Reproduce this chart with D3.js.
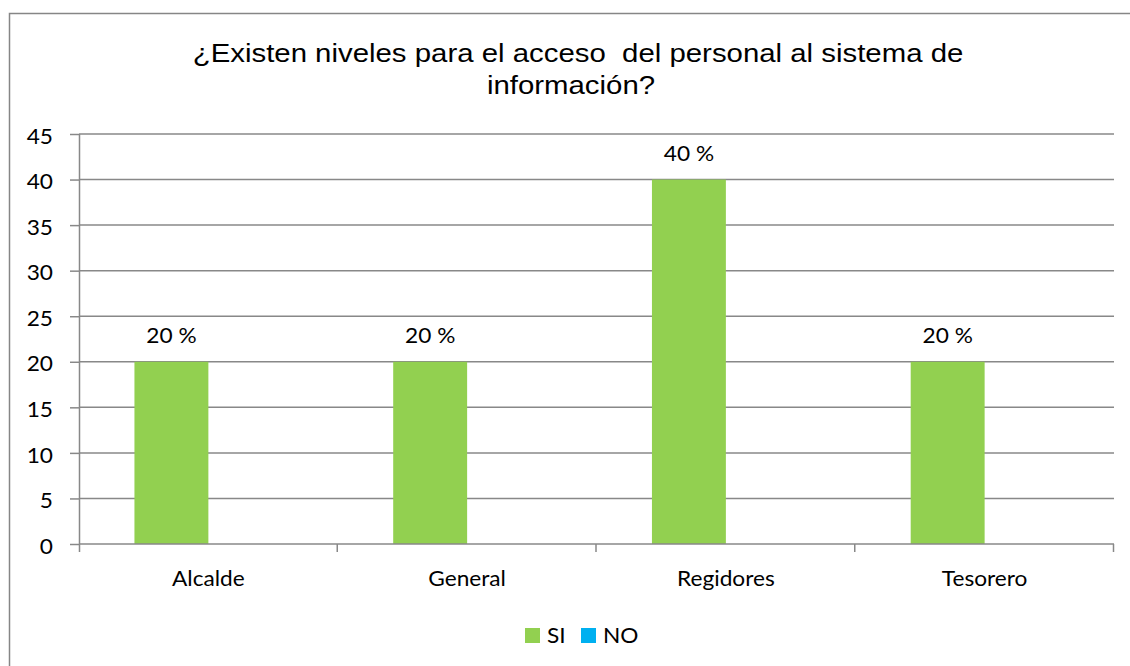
<!DOCTYPE html>
<html>
<head>
<meta charset="utf-8">
<script src="https://cdn.jsdelivr.net/npm/d3@7"></script>
<style>
  html, body { margin: 0; padding: 0; background: #fff; overflow: hidden; }
  svg { display: block; }
</style>
</head>
<body>
<svg id="chart" width="1130" height="666"></svg>
<script>
// Chart data
const categories = ["Alcalde", "General", "Regidores", "Tesorero"];
const seriesNames = ["SI", "NO"];
const siValues = [20, 20, 40, 20];
const noValues = [0, 0, 0, 0];
const yTickValues = [0, 5, 10, 15, 20, 25, 30, 35, 40, 45];
const titleLines = ["¿Existen niveles para el acceso  del personal al sistema de", "información?"];

const seriesColors = { SI: "#92D050", NO: "#00B0F0" };
const gridColor = "#888888";
const labelFont = "Lato, 'Open Sans', sans-serif";
const labelSize = 21;
const titleFont = "'Liberation Sans', Arial, sans-serif";
const titleStretch = 1.13; // horizontal widening of the title glyphs
const labelStretch = 1.08; // horizontal widening of the label glyphs

const svg = d3.select("#chart");

// Chart frame: only the top and left edges fall inside the view
svg.append("path")
  .attr("d", "M9.5,700V13.5H1200")
  .attr("fill", "none")
  .attr("stroke", "#868686").attr("stroke-width", 1.5);

// Title
const titleCenters = [578, 571];
const titleBaselines = [62, 94];
titleLines.forEach((line, i) => {
  svg.append("text")
    .attr("transform", `translate(${titleCenters[i]},${titleBaselines[i]}) scale(${titleStretch},1)`)
    .attr("text-anchor", "middle")
    .attr("font-family", titleFont)
    .attr("font-size", 26)
    .attr("fill", "#000")
    .style("white-space", "pre")
    .text(line);
});

// Scales
const plot = { left: 79, right: 1114, top: 134, bottom: 544 };
const y = d3.scaleLinear().domain([0, 45]).range([plot.bottom, plot.top]);
const x0 = d3.scaleBand().domain(categories).range([plot.left, plot.right]).padding(0);
const x1 = d3.scaleBand().domain(seriesNames).range([0, x0.bandwidth()])
  .paddingInner(0).paddingOuter(0.75);

// Horizontal gridlines
svg.append("g")
  .selectAll("line")
  .data(yTickValues.filter(v => v > 0))
  .join("line")
  .attr("x1", plot.left).attr("x2", plot.right)
  .attr("y1", d => y(d)).attr("y2", d => y(d))
  .attr("stroke", gridColor).attr("stroke-width", 1.5);

// Bars
const rows = categories.map((c, i) => ({ category: c, SI: siValues[i], NO: noValues[i] }));
const groups = svg.append("g")
  .selectAll("g")
  .data(rows)
  .join("g")
  .attr("transform", d => `translate(${x0(d.category)},0)`);

groups.selectAll("rect")
  .data(d => seriesNames.map(s => ({ series: s, value: d[s] })))
  .join("rect")
  .attr("x", d => x1(d.series))
  .attr("width", x1.bandwidth())
  .attr("y", d => y(d.value))
  .attr("height", d => y(0) - y(d.value))
  .attr("fill", d => seriesColors[d.series]);

// Value labels above the SI bars
groups.selectAll("text.value")
  .data(d => [{ series: "SI", value: d.SI }])
  .join("text")
  .attr("class", "value")
  .attr("transform", d => `translate(${x1(d.series) + x1.bandwidth() / 2},${y(d.value) - 18.5}) scale(${labelStretch},1)`)
  .attr("text-anchor", "middle")
  .attr("font-family", labelFont)
  .attr("font-size", labelSize)
  .attr("fill", "#000")
  .text(d => `${d.value} %`);

// Y axis
const yAxis = svg.append("g")
  .attr("transform", `translate(${plot.left},0)`)
  .call(d3.axisLeft(y).tickValues(yTickValues).tickSize(9).tickPadding(17).tickSizeOuter(0));
yAxis.select(".domain").attr("stroke", gridColor).attr("stroke-width", 1.5)
  .attr("d", `M0.5,${y(45)}V${plot.bottom + 8}`);
yAxis.selectAll(".tick line").attr("stroke", gridColor).attr("stroke-width", 1.5);
yAxis.selectAll(".tick text")
  .attr("font-family", labelFont)
  .attr("font-size", labelSize)
  .attr("fill", "#000")
  .attr("x", null)
  .attr("dy", null)
  .attr("dominant-baseline", "central")
  .attr("transform", `translate(-26,1) scale(${labelStretch},1)`);

// X axis: baseline with boundary ticks between categories
const xAxisG = svg.append("g");
xAxisG.append("line")
  .attr("x1", plot.left).attr("x2", plot.right)
  .attr("y1", y(0)).attr("y2", y(0))
  .attr("stroke", gridColor).attr("stroke-width", 1.5);
const boundaries = categories.map(c => x0(c)).concat([x0(categories[categories.length - 1]) + x0.bandwidth()]);
xAxisG.selectAll("line.boundary")
  .data(boundaries.slice(1))
  .join("line")
  .attr("class", "boundary")
  .attr("x1", d => d - 0.5).attr("x2", d => d - 0.5)
  .attr("y1", y(0)).attr("y2", y(0) + 8)
  .attr("stroke", gridColor).attr("stroke-width", 1.5);
xAxisG.selectAll("text")
  .data(categories)
  .join("text")
  .attr("transform", d => `translate(${x0(d) + x0.bandwidth() / 2},586) scale(${labelStretch},1)`)
  .attr("text-anchor", "middle")
  .attr("font-family", labelFont)
  .attr("font-size", labelSize)
  .attr("fill", "#000")
  .text(d => d);

// Legend
const legendX = [525, 581];
const legend = svg.append("g")
  .selectAll("g")
  .data(seriesNames)
  .join("g")
  .attr("transform", (d, i) => `translate(${legendX[i]},628)`);
legend.append("rect")
  .attr("width", 15).attr("height", 15)
  .attr("fill", d => seriesColors[d]);
legend.append("text")
  .attr("transform", `translate(22,15) scale(${labelStretch},1)`)
  .attr("font-family", labelFont)
  .attr("font-size", labelSize)
  .attr("fill", "#000")
  .text(d => d);
</script>
</body>
</html>
